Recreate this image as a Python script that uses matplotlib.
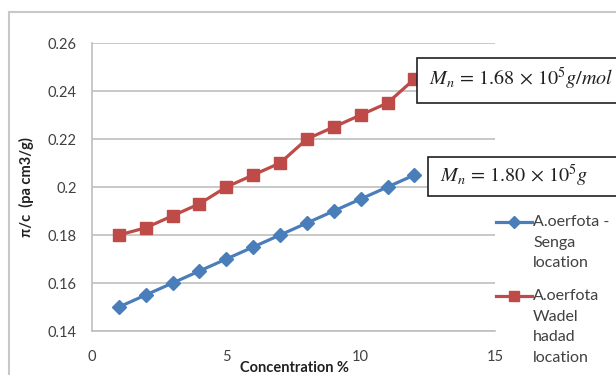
import matplotlib
matplotlib.use("Agg")
import matplotlib.pyplot as plt
from matplotlib.patches import Rectangle
from matplotlib.lines import Line2D

conc = [1, 2, 3, 4, 5, 6, 7, 8, 9, 10, 11, 12]
senga = [0.150, 0.155, 0.160, 0.165, 0.170, 0.175, 0.180, 0.185, 0.190, 0.195, 0.200, 0.205]
wadel = [0.180, 0.183, 0.188, 0.193, 0.200, 0.205, 0.210, 0.220, 0.225, 0.230, 0.235, 0.245]
xticks = [0, 5, 10, 15]
yticks = [0.14, 0.16, 0.18, 0.20, 0.22, 0.24, 0.26]
ytick_labels = ["0.14", "0.16", "0.18", "0.2", "0.22", "0.24", "0.26"]
label_senga = ["A.oerfota -", "Senga", "location"]
label_wadel = ["A.oerfota", "Wadel", "hadad", "location"]
note_wadel = r"$M_n\,=\,1.68\,\times\,10^5 g/mol$"
note_senga = r"$M_n\,=\,1.80\,\times\,10^5 g$"

plt.rcParams['font.family'] = ['Lato', 'DejaVu Sans']
plt.rcParams['mathtext.fontset'] = 'stix'

W, H = 616, 375
fig = plt.figure(figsize=(W / 100, H / 100), dpi=100)
fig.patch.set_facecolor('white')

# outer chart frame
fig.patches.append(Rectangle((9 / W, -0.05), 1.1, 1 - 12 / H + 0.05, transform=fig.transFigure,
                             fill=False, edgecolor='#c8c8c8', linewidth=1.5))

ax = fig.add_axes([92 / W, 1 - 331 / H, (495 - 92) / W, (331 - 43) / H])
blue = '#4a7ebb'
red = '#be4b48'
ax.plot(conc, senga, color=blue, lw=2.3, marker='D', markersize=7.5)
ax.plot(conc, wadel, color=red, lw=2.3, marker='s', markersize=8.5)

ax.set_xlim(0, 15)
ax.set_ylim(0.14, 0.26)
ax.set_xticks(xticks)
ax.set_yticks(yticks)
ax.set_yticklabels(ytick_labels)
ax.tick_params(length=0, labelsize=10.5, labelcolor='#404040')
ax.tick_params(axis='y', pad=11)
ax.tick_params(axis='x', pad=14)
ax.grid(axis='y', color='#bfbfbf', lw=1.2)
ax.set_axisbelow(True)
for s in ['top', 'right']:
    ax.spines[s].set_visible(False)
for s in ['left', 'bottom']:
    ax.spines[s].set_color('#bfbfbf')
    ax.spines[s].set_linewidth(1.2)

fig.text(26 / W, 1 - 187 / H, "π/c  (pa cm3/g)", rotation=90, ha='center', va='center',
         fontsize=10.5, fontweight='bold', color='#202020')
fig.text(295 / W, 1 - 368 / H, "Concentration %", ha='center', va='center',
         fontsize=10.5, fontweight='bold', color='#202020')

# annotation boxes
fig.patches.append(Rectangle((417 / W, 1 - 103 / H), 1.0, 45 / H, transform=fig.transFigure,
                             facecolor='white', edgecolor='#202020', linewidth=1.2, zorder=5))
fig.text(429 / W, 1 - 79 / H, note_wadel, fontsize=14.5, va='center', ha='left', color='#202020', zorder=6)
fig.patches.append(Rectangle((428 / W, 1 - 196 / H), 1.0, 39 / H, transform=fig.transFigure,
                             facecolor='white', edgecolor='#202020', linewidth=1.2, zorder=5))
fig.text(440 / W, 1 - 176 / H, note_senga, fontsize=14.5, va='center', ha='left', color='#202020', zorder=6)

# legend (handle aligned with first line of each label)
entries = [(label_senga, blue, 'D', 6.5, 222), (label_wadel, red, 's', 7.5, 296)]
for lines, col, mk, ms, y0 in entries:
    yy = 1 - y0 / H
    fig.add_artist(Line2D([496 / W, 532 / W], [yy, yy], transform=fig.transFigure,
                          color=col, lw=2.3))
    fig.add_artist(Line2D([514 / W], [yy], transform=fig.transFigure,
                          color=col, marker=mk, markersize=ms, lw=0))
    for i, s in enumerate(lines):
        fig.text(533 / W, 1 - (y0 + i * 20.7) / H, s, fontsize=11.5, color='#404040',
                 ha='left', va='center')

fig.savefig("out.png", dpi=100)
